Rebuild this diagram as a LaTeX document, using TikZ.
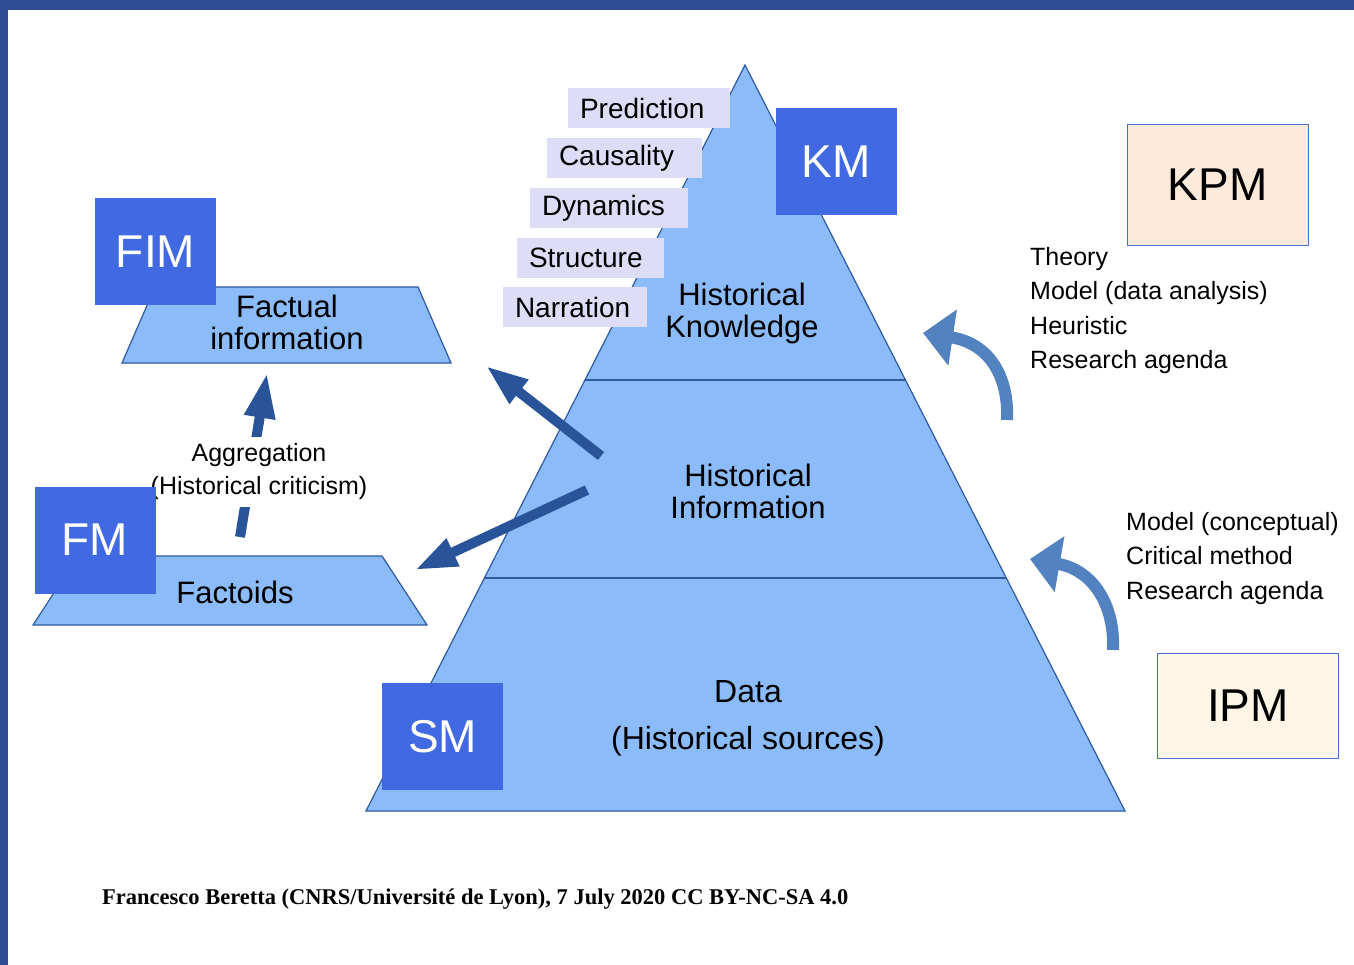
\documentclass[tikz,border=0pt]{standalone}
\usepackage{fontspec}
\setmainfont{Liberation Sans}
\newfontfamily\footfont{Liberation Serif}
\usepackage{tikz}
\usetikzlibrary{calc}
\usetikzlibrary{arrows.meta}

\definecolor{band}{RGB}{47,75,147}
\definecolor{pyrblue}{RGB}{139,188,249}
\definecolor{edgeblue}{RGB}{46,90,158}
\definecolor{lavender}{RGB}{222,221,248}
\definecolor{royal}{RGB}{65,105,225}
\definecolor{darkarrow}{RGB}{42,84,153}
\definecolor{curveblue}{RGB}{82,130,192}
\definecolor{kpmfill}{RGB}{253,234,218}
\definecolor{ipmfill}{RGB}{253,245,230}
\definecolor{pmborder}{RGB}{68,114,196}

\tikzset{
  layer/.style={fill=pyrblue, draw=edgeblue, line width=1.2pt},
  edge/.style={draw=edgeblue, line width=1.2pt},
  mbox/.style={fill=royal, text=white, minimum width=121pt, minimum height=107pt, inner sep=0pt, font=\fontsize{46}{48}\selectfont},
  lvlbox/.style={fill=lavender, minimum height=40pt, inner ysep=0pt, inner xsep=12pt, align=left, font=\fontsize{28}{30}\selectfont},
  pmbox/.style={draw=pmborder, line width=0.8pt, minimum width=181pt, inner sep=0pt, font=\fontsize{46}{48}\selectfont},
  lbl/.style={align=center, inner sep=0pt, font=\fontsize{31}{32}\selectfont},
  notes/.style={anchor=north west, align=left, inner sep=0pt, font=\fontsize{25}{34.5}\selectfont},
  bigarrow/.style={draw=darkarrow, line width=10pt, -{Triangle[width=28pt,length=42pt]}},
  curvearrow/.style={draw=curveblue, line width=12pt, -{Triangle[width=55pt,length=30pt]}}
}

\begin{document}
\begin{tikzpicture}[x=1pt,y=-1pt]
\fill[white] (0,0) rectangle (1354,965);
\useasboundingbox (0,0) rectangle (1354,965);
\fill[band] (0,0) rectangle (1354,10);
\fill[band] (0,0) rectangle (8,965);

\coordinate (top) at (745,65);
\coordinate (bl) at (366,811);
\coordinate (br) at (1125,811);
\draw[layer] (top) -- (br) -- (bl) -- cycle;
\draw[edge] ($(top)!0.4223!(bl)$) -- ($(top)!0.4223!(br)$);
\draw[edge] ($(top)!0.6877!(bl)$) -- ($(top)!0.6877!(br)$);
\node (know) at (742,313) [lbl] {Historical\\Knowledge};
\node (info) at (748,491) [lbl] {Historical\\Information};
\node (data) at (748,718) [lbl, font=\fontsize{32}{47}\selectfont] {Data\\(Historical sources)};

\node (pred) at (649,108) [lvlbox, text width=138pt] {Prediction};
\node (caus) at (624.5,158) [lvlbox, text width=131pt] {Causality};
\node (dyn) at (609,208) [lvlbox, text width=134pt] {Dynamics};
\node (struc) at (590.5,258) [lvlbox, text width=123pt] {Structure};
\node (narr) at (575,307) [lvlbox, text width=120pt] {Narration};

\draw[layer] (155,287) -- (418,287) -- (451,363) -- (122,363) -- cycle;
\node (fact) at (287,322) [lbl] {Factual\\information};
\draw[layer] (78,556) -- (382,556) -- (427,625) -- (33,625) -- cycle;
\node (factoids) at (235,592) [lbl] {Factoids};

\coordinate (info-a) at (601,456);
\coordinate (fact-a) at (486,366);
\coordinate (info-b) at (587,490);
\coordinate (factoids-a) at (415,570);
\draw[bigarrow] (info-a) -- (fact-a);
\draw[bigarrow] (info-b) -- (factoids-a);

\coordinate (agg-s) at (240,537);
\coordinate (agg-e) at (267,373);
\draw[bigarrow, -{Triangle[width=29pt,length=45pt]}] (agg-s) -- (agg-e);
\node (agg) at (259,472) [fill=white, inner xsep=2pt, inner ysep=7pt, align=center, font=\fontsize{25}{33}\selectfont] {Aggregation\\(Historical criticism)};

\node (km) at (836,161.5) [mbox] {KM};
\node (fim) at (155.5,252) [mbox] {FIM};
\node (fm) at (95,540) [mbox] {FM};
\node (sm) at (442.5,736.5) [mbox] {SM};

\node (kpm) at (1217.5,184.5) [pmbox, fill=kpmfill, minimum height=121pt] {KPM};
\node (ipm) at (1248,705.5) [pmbox, fill=ipmfill, minimum height=105pt] {IPM};
\node (kptext) at (1030,247) [notes] {Theory\\Model (data analysis)\\Heuristic\\Research agenda};
\node (iptext) at (1126,512) [notes] {Model (conceptual)\\Critical method\\Research agenda};

\coordinate (kp-s) at (1007,420);
\coordinate (kp-e) at (923,333);
\coordinate (ip-s) at (1113,650);
\coordinate (ip-e) at (1030,559);
\draw[curvearrow] (kp-s) .. controls (1009,375) and (988,343) .. (kp-e);
\draw[curvearrow] (ip-s) .. controls (1115,605) and (1093,570) .. (ip-e);

\node (credit) at (102,904) [anchor=base west, inner sep=0pt, font=\footfont\bfseries\fontsize{22.5}{24}\selectfont] {Francesco Beretta (CNRS/Université de Lyon), 7 July 2020 CC BY-NC-SA 4.0};
\end{tikzpicture}
\end{document}
